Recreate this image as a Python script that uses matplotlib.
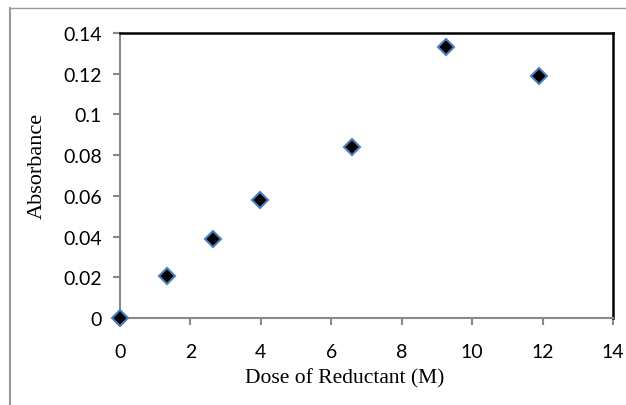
import matplotlib
matplotlib.use("Agg")
import matplotlib.pyplot as plt
from matplotlib.lines import Line2D

dose = [0, 1.33, 2.65, 3.98, 6.6, 9.25, 11.9]
absorbance = [0.0, 0.0206, 0.0388, 0.058, 0.084, 0.133, 0.119]
xticks = [0, 2, 4, 6, 8, 10, 12, 14]
yticks = [0, 0.02, 0.04, 0.06, 0.08, 0.1, 0.12, 0.14]
yticklabels = ["0", "0.02", "0.04", "0.06", "0.08", "0.1", "0.12", "0.14"]

W, H = 626, 406
fig = plt.figure(figsize=(W / 100, H / 100), dpi=100)
fig.patch.set_facecolor("white")
ax = fig.add_axes([120 / W, 1 - 319 / H, (613 - 120) / W, (319 - 34) / H])

ax.plot(dose, absorbance, linestyle="none", marker="D", markersize=8,
        markerfacecolor="black", markeredgecolor="#4a7ebb", markeredgewidth=1.5,
        clip_on=False, zorder=5)

ax.set_xlim(0, 14)
ax.set_ylim(0, 0.14)
ax.set_xticks(xticks)
ax.set_xticklabels([str(v) for v in xticks])
ax.set_yticks(yticks)
ax.set_yticklabels(yticklabels)

for lab in ax.get_xticklabels() + ax.get_yticklabels():
    lab.set_fontfamily("Lato")
    lab.set_fontsize(14)
    lab.set_color("black")

ax.tick_params(axis="both", direction="out", length=5, width=1.5, color="#888888")
ax.tick_params(axis="x", pad=13)
ax.tick_params(axis="y", pad=8)

for s in ["left", "bottom"]:
    ax.spines[s].set_color("#888888")
    ax.spines[s].set_linewidth(1.5)
for s in ["top", "right"]:
    ax.spines[s].set_color("black")
    ax.spines[s].set_linewidth(1.8)

ax.set_xlabel("Dose of Reductant (M)", family="Liberation Serif", fontsize=15.5, labelpad=6)
ax.set_ylabel("Absorbance", family="Liberation Serif", fontsize=16, labelpad=12)
ax.xaxis.label.set_x((345 - 120) / (613 - 120))
ax.yaxis.label.set_y((319 - 166) / (319 - 34))

# outer chart frame (left and top edges visible)
fig.add_artist(Line2D([10 / W, 10 / W], [0, 1 - 9 / H], transform=fig.transFigure,
                      color="#999999", linewidth=1.5))
fig.add_artist(Line2D([10 / W, 1], [1 - 9 / H, 1 - 9 / H], transform=fig.transFigure,
                      color="#999999", linewidth=1.0))

fig.savefig("out.png", dpi=100, facecolor="white")
